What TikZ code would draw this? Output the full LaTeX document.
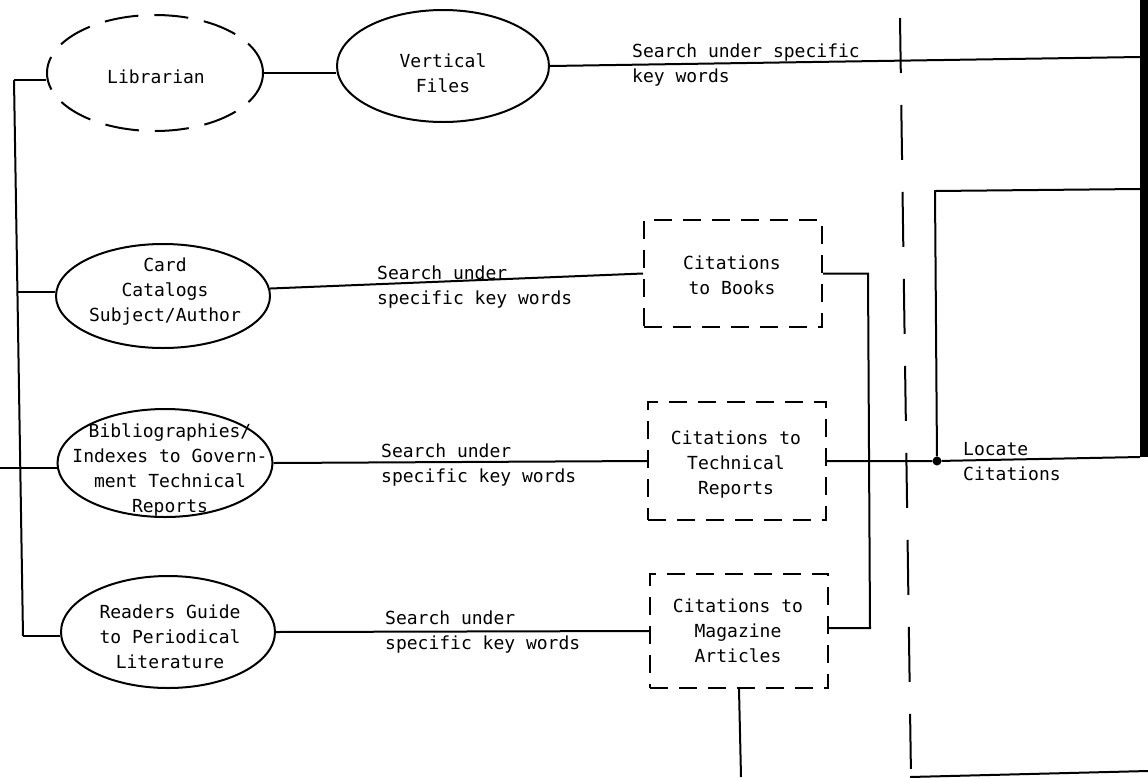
\documentclass[tikz,border=0pt]{standalone}
\usepackage{fontspec}
\setmainfont{DejaVu Sans Mono}
\usetikzlibrary{shapes.geometric,calc}
\begin{document}
\begin{tikzpicture}[x=1pt,y=-1pt,
  ln/.style={line width=2pt},
  ell/.style={ellipse,draw,line width=2pt,inner sep=0pt},
  dbox/.style={draw,line width=2pt,dash pattern=on 18pt off 11pt,inner sep=0pt},
  txt/.style={font=\fontsize{18}{25}\selectfont,align=center,inner sep=0pt},
  lbl/.style={font=\fontsize{18}{25}\selectfont,align=left,inner sep=0pt,anchor=north west},
]
\useasboundingbox (0,0) rectangle (1148,777);

% ellipses
\node[ell,dash pattern=on 34pt off 16pt,minimum width=216pt,minimum height=116pt] (lib) at (155,73) {};
\node[txt] (libt) at (156,77) {Librarian};
\node[ell,minimum width=212pt,minimum height=112pt] (vf) at (443,66) {};
\node[txt] (vft) at (443,73) {Vertical\\Files};
\node[ell,minimum width=214pt,minimum height=104pt] (card) at (163,296) {};
\node[txt] (cardt) at (165,292) {Card\\Catalogs\\Subject/Author};
\node[ell,minimum width=215pt,minimum height=108pt] (bib) at (165,463) {};
\node[txt] (bibt) at (170,470) {Bibliographies/\\Indexes to Govern-\\ment Technical\\Reports};
\node[ell,minimum width=214pt,minimum height=112pt] (rg) at (168,632) {};
\node[txt] (rgt) at (170,637) {Readers Guide\\to Periodical\\Literature};

% dashed boxes
\node[dbox,minimum width=178pt,minimum height=107pt] (books) at (733,273.5) {};
\node[txt] (bookst) at (732,275) {Citations\\to Books};
\node[dbox,minimum width=178pt,minimum height=118pt] (tech) at (737,461) {};
\node[txt] (techt) at (736,465) {Citations to\\Technical\\Reports};
\node[dbox,minimum width=178pt,minimum height=114pt] (mag) at (739,631) {};
\node[txt] (magt) at (738,631) {Citations to\\Magazine\\Articles};

% junction dot
\node[circle,fill,inner sep=0pt,minimum size=9pt] (dot) at (937,461) {};

% coordinates
\coordinate (busT) at (14,80);
\coordinate (busB) at (23,636);
\coordinate (busC) at (17,292);
\coordinate (bibL) at (0,468);
\coordinate (vfR) at (1140,57);
\coordinate (j1) at (868,273.5);
\coordinate (j2) at (870,628);
\coordinate (locR) at (1140,457);
\coordinate (boxT) at (935,191);
\coordinate (boxR) at (1140,189);
\coordinate (magB) at (741,777);
\coordinate (botL) at (910,777);
\coordinate (botR) at (1148,771);
\coordinate (dashT) at (900,18);
\coordinate (dashB) at (911,777);
\coordinate (edgeT) at (1144,0);
\coordinate (edgeB) at (1144,457);

% connectors
\draw[ln] (lib.east) -- (lib.east -| vf.west);
\draw[ln] (vf.east) -- (vfR);
\draw[ln] (busT) -- (busB);
\draw[ln] (busT) -- (busT -| lib.west);
\draw[ln] (busC) -- (busC -| card.west);
\draw[ln] (bibL) -- (bibL -| bib.west);
\draw[ln] (busB) -- (busB -| rg.west);
\draw[ln] (card.4) -- (books.west);
\draw[ln] (bib.east) -- (tech.west);
\draw[ln] (rg.east) -- (mag.west);
\draw[ln] (books.east) -- (j1) -- (j2) -- (j2 -| mag.east);
\draw[ln] (tech.east) -- (dot) -- (locR);
\draw[ln] (dot) -- (boxT) -- (boxR);
\draw[ln] (mag.south) -- (magB);
\draw[ln] (botL) -- (botR);
\draw[line width=2pt,dash pattern=on 55pt off 32pt] (dashT) -- (dashB);
\draw[line width=8pt] (edgeT) -- (edgeB);

% labels
\node[lbl] (l1) at (632,44) {Search under specific\\key words};
\node[lbl] (l2) at (377,266) {Search under\\specific key words};
\node[lbl] (l3) at (381,444) {Search under\\specific key words};
\node[lbl] (l4) at (385,611) {Search under\\specific key words};
\node[lbl] (l5) at (963,442) {Locate\\Citations};
\end{tikzpicture}
\end{document}
